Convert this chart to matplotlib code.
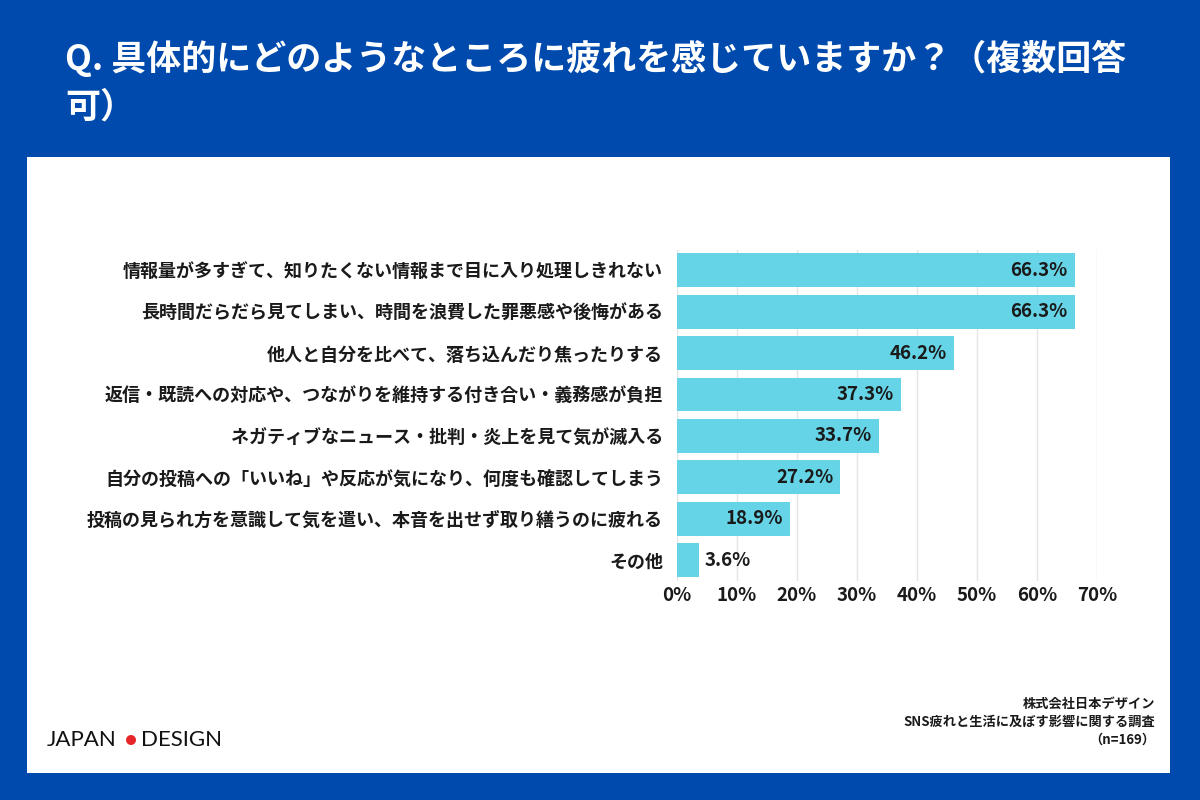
import matplotlib.pyplot as plt
from matplotlib.patches import Rectangle, Ellipse

plt.rcParams['font.family'] = ['Noto Sans CJK JP', 'DejaVu Sans']

categories = [
    "情報量が多すぎて、知りたくない情報まで目に入り処理しきれない",
    "長時間だらだら見てしまい、時間を浪費した罪悪感や後悔がある",
    "他人と自分を比べて、落ち込んだり焦ったりする",
    "返信・既読への対応や、つながりを維持する付き合い・義務感が負担",
    "ネガティブなニュース・批判・炎上を見て気が滅入る",
    "自分の投稿への「いいね」や反応が気になり、何度も確認してしまう",
    "投稿の見られ方を意識して気を遣い、本音を出せず取り繕うのに疲れる",
    "その他",
]
values = [66.3, 66.3, 46.2, 37.3, 33.7, 27.2, 18.9, 3.6]
xticks = [0, 10, 20, 30, 40, 50, 60, 70]

title_lines = ["Q. 具体的にどのようなところに疲れを感じていますか？（複数回答", "可）"]
source = "株式会社日本デザイン\nSNS疲れと生活に及ぼす影響に関する調査\n（n=169）"

W, H = 1200, 800
blue = "#004AAD"
bar_color = "#66D4E7"
text_color = "#1a1a1a"

fig = plt.figure(figsize=(12, 8), dpi=100, facecolor=blue)

# white panel behind the chart
fig.patches.append(Rectangle((27 / W, 1 - 773 / H), (1170 - 27) / W, (773 - 157) / H,
                             transform=fig.transFigure, facecolor="white",
                             edgecolor="none", zorder=-5))

fig.text(65 / W, 1 - 58 / H, title_lines[0], color="white", fontsize=25.2, fontweight="bold",
         ha="left", va="center", transform=fig.transFigure)
fig.text(65 / W, 1 - 107 / H, title_lines[1], color="white", fontsize=25.2, fontweight="bold",
         ha="left", va="center", transform=fig.transFigure)

ax = fig.add_axes([677 / W, 1 - 580.7 / H, 420 / W, 331 / H])
ax.set_facecolor("white")

y = list(range(len(categories)))
ax.barh(y, values, height=0.82, color=bar_color, zorder=2)
ax.set_xlim(0, 70)
ax.set_ylim(len(categories) - 0.5, -0.5)
ax.set_yticks(y)
ax.set_yticklabels(categories, fontsize=13, fontweight="bold", color=text_color)
ax.set_xticks(xticks)
ax.set_xticklabels([f"{t}%" for t in xticks], fontsize=13.5, fontweight="bold", color=text_color)
ax.tick_params(axis="y", length=0, pad=10)
ax.tick_params(axis="x", length=0, pad=4)
ax.grid(axis="x", color="#E5E5E5", linewidth=1, zorder=0)
ax.set_axisbelow(True)
for s in ax.spines.values():
    s.set_visible(False)

for i, v in enumerate(values):
    if v > 10:
        ax.annotate(f"{v}%", (v, i), xytext=(-5, 0), textcoords="offset points",
                    ha="right", va="center", fontsize=13.5, fontweight="bold", color=text_color)
    else:
        ax.annotate(f"{v}%", (v, i), xytext=(4, 0), textcoords="offset points",
                    ha="left", va="center", fontsize=13.5, fontweight="bold", color=text_color)

fig.text(1155 / W, 1 - 722 / H, source, fontsize=9.5, fontweight="bold", color=text_color,
         ha="right", va="center", multialignment="right", linespacing=1.35,
         transform=fig.transFigure)

# logo
fig.text(47 / W, 1 - 740 / H, "JAPAN", fontsize=16, family="Lato",
         color="#111111", ha="left", va="center", transform=fig.transFigure)
fig.patches.append(Ellipse((131 / W, 1 - 740 / H), 10 / W, 10 / H, transform=fig.transFigure,
                           facecolor="#E8262A", edgecolor="none"))
fig.text(141 / W, 1 - 740 / H, "DESIGN", fontsize=16, family="Lato",
         color="#111111", ha="left", va="center", transform=fig.transFigure)

fig.savefig("out.png", dpi=100, facecolor=blue)
